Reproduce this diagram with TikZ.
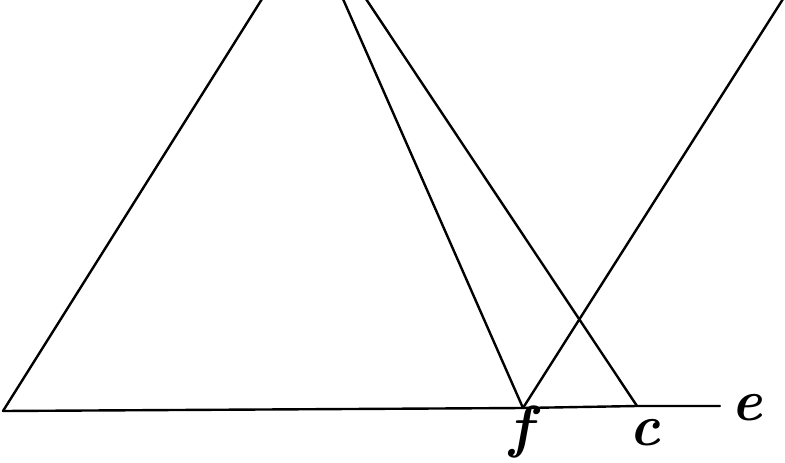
\documentclass[tikz,border=0pt]{standalone}
\usepackage{fontspec}
\setmainfont{Latin Modern Roman}
\begin{document}
\begin{tikzpicture}[x=1pt,y=-1pt,
  ln/.style={line width=2.4pt,line cap=round},
  lbl/.style={font=\fontsize{58}{58}\selectfont\bfseries\itshape,inner sep=0pt,anchor=base}]
\useasboundingbox (0,0) rectangle (785,463);
\clip (0,0) rectangle (785,463);
\coordinate (a) at (3,411);
\coordinate (f) at (523,408);
\coordinate (c) at (637,406);
\coordinate (e) at (720,406);
\coordinate (t1) at (262,-1);
\coordinate (t2) at (343,-1);
\coordinate (t3) at (366,-1);
\coordinate (t4) at (783,-1);
\draw[ln] (a) -- (f) -- (c) -- (e);
\draw[ln] (a) -- (t1);
\draw[ln] (f) -- (t2);
\draw[ln] (c) -- (t3);
\draw[ln] (f) -- (t4);
\node[lbl] (le) at (747,420) {e};
\node[lbl] (lf) at (521,446) {f};
\node[lbl] (lc) at (645,445) {c};
\end{tikzpicture}
\end{document}
